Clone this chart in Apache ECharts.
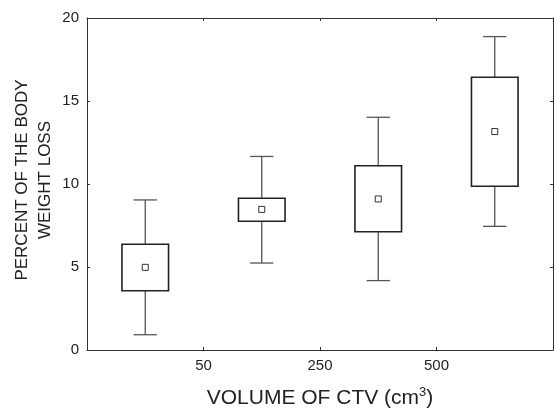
<!DOCTYPE html>
<html>
<head>
<meta charset="utf-8">
<script src="https://cdn.jsdelivr.net/npm/echarts@6/dist/echarts.min.js"></script>
<style>
html,body{margin:0;padding:0;background:#fff;}
#chart{width:556px;height:414px;}
</style>
</head>
<body>
<div id="chart"></div>
<script>
// Boundary tick labels on the x axis (between the four volume groups)
var tickLabels = ['50', '250', '500'];
// Four groups, values
var whiskerLow  = [0.92, 5.24, 4.18, 7.45];
var boxLow      = [3.57, 7.76, 7.12, 9.86];
var meanValue   = [4.98, 8.47, 9.10, 13.16];
var boxHigh     = [6.37, 9.14, 11.10, 16.43];
var whiskerHigh = [9.04, 11.66, 14.02, 18.88];
var yTicks = [0, 5, 10, 15, 20];

var FONT = 'Liberation Sans, Arial, sans-serif';
var data = meanValue.map(function (m, i) {
  return [i + 0.5, whiskerLow[i], boxLow[i], m, boxHigh[i], whiskerHigh[i]];
});

var chart = echarts.init(document.getElementById('chart'), null, {renderer: 'canvas'});

function xLabel(v) {
  var i = Math.round(v) - 1;
  return (i >= 0 && i < tickLabels.length) ? tickLabels[i] : '';
}

var axisCommon = {
  axisLine: {show: true, onZero: false, lineStyle: {color: '#333', width: 1}},
  axisTick: {show: true, inside: true, length: 3, lineStyle: {color: '#333'}},
  splitLine: {show: false}
};

var option = {
  animation: false,
  backgroundColor: '#fff',
  grid: {left: 87, right: 1, top: 18, bottom: 56, containLabel: false},
  xAxis: [
    Object.assign({
      type: 'value', min: 0, max: tickLabels.length + 1, interval: 1,
      position: 'bottom',
      axisLabel: {formatter: xLabel, color: '#222', fontSize: 15, fontFamily: FONT, margin: 8},
      name: 'VOLUME OF CTV (cm{sup|3})',
      nameLocation: 'middle', nameGap: 36,
      nameTextStyle: {
        color: '#222', fontSize: 21, fontFamily: FONT,
        rich: {sup: {fontSize: 13, fontFamily: FONT, color: '#222', verticalAlign: 'top', padding: [0, 0, 12, 0]}}
      }
    }, axisCommon),
    Object.assign({
      type: 'value', min: 0, max: tickLabels.length + 1, interval: 1,
      position: 'top', axisLabel: {show: false}
    }, axisCommon)
  ],
  yAxis: [
    Object.assign({
      type: 'value', min: yTicks[0], max: yTicks[yTicks.length - 1], interval: yTicks[1] - yTicks[0],
      position: 'left',
      axisLabel: {color: '#222', fontSize: 15, fontFamily: FONT, margin: 8}
    }, axisCommon),
    Object.assign({
      type: 'value', min: yTicks[0], max: yTicks[yTicks.length - 1], interval: yTicks[1] - yTicks[0],
      position: 'right', axisLabel: {show: false}
    }, axisCommon)
  ],
  graphic: [{
    type: 'text',
    x: 34, y: 180,
    rotation: Math.PI / 2,
    style: {
      text: 'PERCENT OF THE BODY\nWEIGHT LOSS',
      fontSize: 17, fontFamily: FONT, fill: '#222',
      align: 'center', verticalAlign: 'middle', lineHeight: 23
    }
  }],
  series: [{
    type: 'custom',
    xAxisIndex: 0, yAxisIndex: 0,
    data: data,
    renderItem: function (params, api) {
      var x = api.value(0);
      var pWL = api.coord([x, api.value(1)]);
      var pBL = api.coord([x, api.value(2)]);
      var pM  = api.coord([x, api.value(3)]);
      var pBH = api.coord([x, api.value(4)]);
      var pWH = api.coord([x, api.value(5)]);
      var unit = api.size([1, 0])[0];
      var bw = unit * 0.4, cw = unit * 0.2;
      var cx = pM[0];
      var wStyle = {stroke: '#555', lineWidth: 1.3};
      return {
        type: 'group',
        children: [
          {type: 'line', shape: {x1: cx, y1: pBH[1], x2: cx, y2: pWH[1]}, style: wStyle},
          {type: 'line', shape: {x1: cx, y1: pBL[1], x2: cx, y2: pWL[1]}, style: wStyle},
          {type: 'line', shape: {x1: cx - cw / 2, y1: pWH[1], x2: cx + cw / 2, y2: pWH[1]}, style: wStyle},
          {type: 'line', shape: {x1: cx - cw / 2, y1: pWL[1], x2: cx + cw / 2, y2: pWL[1]}, style: wStyle},
          {type: 'rect', shape: {x: cx - bw / 2, y: pBH[1], width: bw, height: pBL[1] - pBH[1]},
            style: {fill: '#fff', stroke: '#222', lineWidth: 1.6}},
          {type: 'rect', shape: {x: cx - 3, y: pM[1] - 3, width: 6, height: 6},
            style: {fill: '#fff', stroke: '#333', lineWidth: 1}}
        ]
      };
    }
  }]
};
chart.setOption(option);
</script>
</body>
</html>
